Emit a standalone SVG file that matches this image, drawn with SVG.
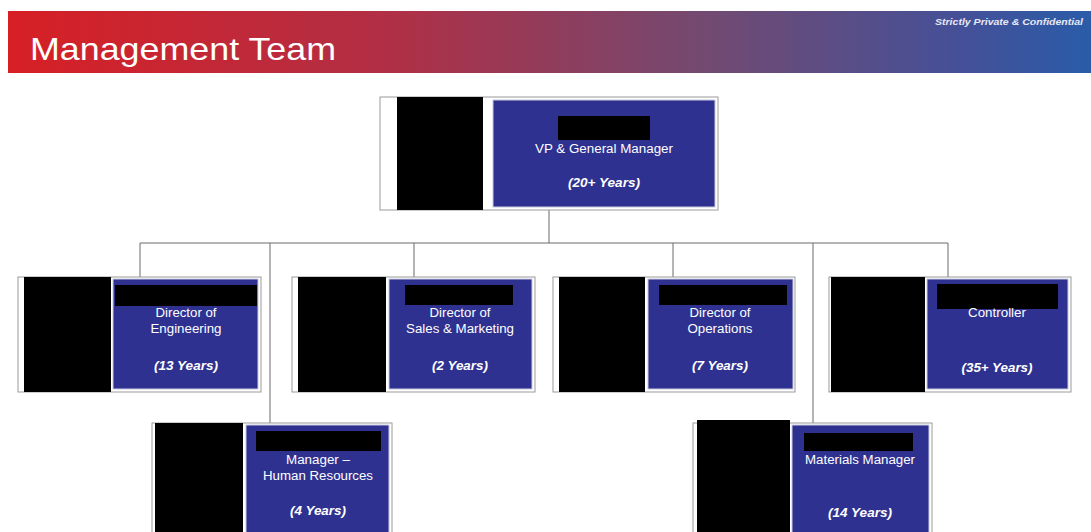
<svg xmlns="http://www.w3.org/2000/svg" width="1091" height="532" viewBox="0 0 1091 532">
<defs>
<linearGradient id="bannerGrad" x1="0" y1="0" x2="1" y2="0">
<stop offset="0" stop-color="#d71f25"/>
<stop offset="0.35" stop-color="#b12f45"/>
<stop offset="0.65" stop-color="#714a72"/>
<stop offset="0.88" stop-color="#455098"/>
<stop offset="1" stop-color="#2a5ca8"/>
</linearGradient>
<style>
.frame{fill:#ffffff;stroke:#9a9a9a;stroke-width:1}
.photo{fill:#000000}
.box{fill:#2e3190;stroke:#c9cade;stroke-width:1}
.redact{fill:#000000}
.t{font-family:"Liberation Sans",Arial,sans-serif;font-size:12px;fill:#ffffff;text-anchor:middle}
.y{font-family:"Liberation Sans",Arial,sans-serif;font-size:12px;fill:#ffffff;text-anchor:middle;font-weight:bold;font-style:italic}
.conn{stroke:#6a6a6a;stroke-width:1;fill:none}
</style>
</defs>
<rect width="1091" height="532" fill="#ffffff"/>
<g id="header">
<rect x="8" y="11" width="1083" height="62" fill="url(#bannerGrad)"/>
<text x="30" y="60" font-family="'Liberation Sans',Arial,sans-serif" font-size="32" fill="#ffffff" textLength="306" lengthAdjust="spacingAndGlyphs">Management Team</text>
<text x="935" y="25" font-family="'Liberation Sans',Arial,sans-serif" font-size="8.5" font-weight="bold" font-style="italic" fill="#e8e8f4" textLength="148" lengthAdjust="spacingAndGlyphs">Strictly Private &amp; Confidential</text>
</g>
<g id="connectors">
<line class="conn" x1="549" y1="210" x2="549" y2="243"/>
<line class="conn" x1="140" y1="243" x2="948" y2="243"/>
<line class="conn" x1="140" y1="243" x2="140" y2="277"/>
<line class="conn" x1="414" y1="243" x2="414" y2="279"/>
<line class="conn" x1="673" y1="243" x2="673" y2="279"/>
<line class="conn" x1="948" y1="243" x2="948" y2="279"/>
<line class="conn" x1="270" y1="243" x2="270" y2="425"/>
<line class="conn" x1="813" y1="243" x2="813" y2="425"/>
</g>
<g id="vp">
<rect class="frame" x="380" y="97" width="338" height="113"/>
<rect class="photo" x="397" y="97" width="86" height="113"/>
<rect class="box" x="493" y="100" width="222" height="107"/>
<rect class="redact" x="558" y="116" width="92" height="24"/>
<text class="t" x="604" y="153" textLength="138" lengthAdjust="spacingAndGlyphs">VP &amp; General Manager</text>
<text class="y" x="604" y="187" textLength="72" lengthAdjust="spacingAndGlyphs">(20+ Years)</text>
</g>
<g id="engineering">
<rect class="frame" x="18" y="277" width="243" height="115"/>
<rect class="photo" x="24" y="277" width="87" height="115"/>
<rect class="box" x="113" y="279" width="145" height="110"/>
<rect class="redact" x="115" y="285" width="142" height="21"/>
<text class="t" x="186" y="317" textLength="61" lengthAdjust="spacingAndGlyphs">Director of</text>
<text class="t" x="186" y="333" textLength="71" lengthAdjust="spacingAndGlyphs">Engineering</text>
<text class="y" x="186" y="370" textLength="64" lengthAdjust="spacingAndGlyphs">(13 Years)</text>
</g>
<g id="sales">
<rect class="frame" x="292" y="277" width="243" height="115"/>
<rect class="photo" x="298" y="277" width="88" height="115"/>
<rect class="box" x="389" y="279" width="143" height="110"/>
<rect class="redact" x="405" y="285" width="108" height="20"/>
<text class="t" x="460" y="317" textLength="61" lengthAdjust="spacingAndGlyphs">Director of</text>
<text class="t" x="460" y="333" textLength="108" lengthAdjust="spacingAndGlyphs">Sales &amp; Marketing</text>
<text class="y" x="460" y="370" textLength="56" lengthAdjust="spacingAndGlyphs">(2 Years)</text>
</g>
<g id="operations">
<rect class="frame" x="553" y="277" width="242" height="115"/>
<rect class="photo" x="559" y="277" width="86" height="115"/>
<rect class="box" x="648" y="279" width="145" height="110"/>
<rect class="redact" x="659" y="285" width="128" height="20"/>
<text class="t" x="720" y="317" textLength="61" lengthAdjust="spacingAndGlyphs">Director of</text>
<text class="t" x="720" y="333" textLength="65" lengthAdjust="spacingAndGlyphs">Operations</text>
<text class="y" x="720" y="370" textLength="56" lengthAdjust="spacingAndGlyphs">(7 Years)</text>
</g>
<g id="controller">
<rect class="frame" x="829" y="277" width="242" height="115"/>
<rect class="photo" x="831" y="277" width="94" height="115"/>
<rect class="box" x="927" y="279" width="141" height="110"/>
<rect class="redact" x="937" y="284" width="121" height="25"/>
<text class="t" x="997" y="317" textLength="58" lengthAdjust="spacingAndGlyphs">Controller</text>
<text class="y" x="997" y="372" textLength="71" lengthAdjust="spacingAndGlyphs">(35+ Years)</text>
</g>
<g id="hr">
<rect class="frame" x="152" y="423" width="240" height="120"/>
<rect class="photo" x="155" y="423" width="88" height="120"/>
<rect class="box" x="246" y="425" width="143" height="120"/>
<rect class="redact" x="256" y="431" width="125" height="20"/>
<text class="t" x="318" y="464" textLength="64" lengthAdjust="spacingAndGlyphs">Manager –</text>
<text class="t" x="318" y="480" textLength="110" lengthAdjust="spacingAndGlyphs">Human Resources</text>
<text class="y" x="318" y="515" textLength="56" lengthAdjust="spacingAndGlyphs">(4 Years)</text>
</g>
<g id="materials">
<rect class="frame" x="693" y="423" width="239" height="120"/>
<rect class="photo" x="697" y="420" width="93" height="123"/>
<rect class="box" x="792" y="425" width="137" height="120"/>
<rect class="redact" x="804" y="433" width="109" height="18"/>
<text class="t" x="860" y="464" textLength="110" lengthAdjust="spacingAndGlyphs">Materials Manager</text>
<text class="y" x="860" y="517" textLength="64" lengthAdjust="spacingAndGlyphs">(14 Years)</text>
</g>
</svg>
